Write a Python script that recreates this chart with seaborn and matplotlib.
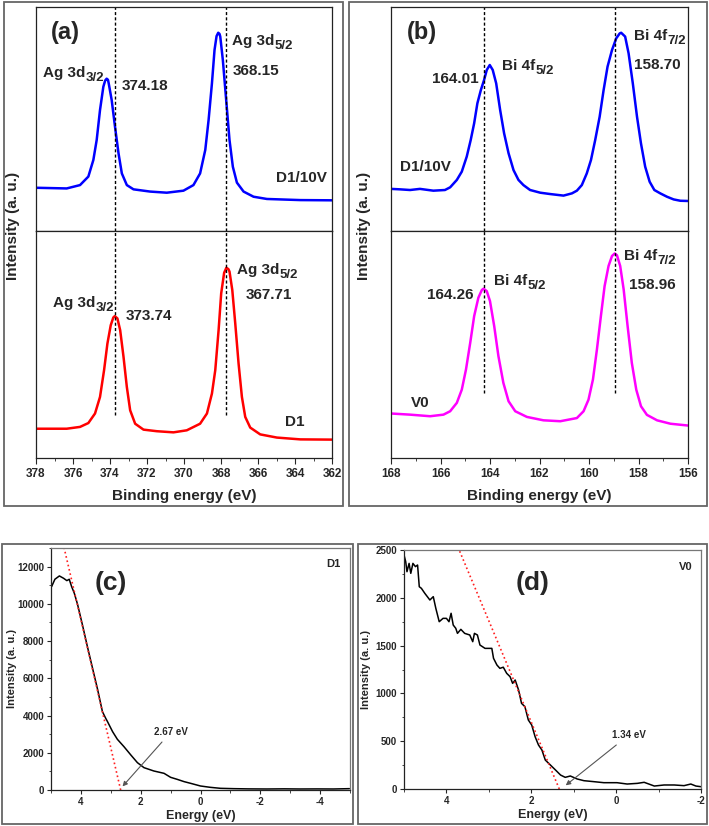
import numpy as np
import pandas as pd
import seaborn as sns
import matplotlib.pyplot as plt
from matplotlib.patches import Rectangle
from matplotlib.ticker import MultipleLocator

# ---------- (a) Ag 3d, D1/10V (top) and D1 (bottom) ----------
ag_top_ev = [378.00, 376.34, 375.62, 375.17, 374.90, 374.72, 374.54, 374.36, 374.26, 374.18,
             374.11, 374.07, 373.91, 373.73, 373.54, 373.36, 373.09, 372.73, 371.83, 370.93,
             370.03, 369.49, 369.13, 368.85, 368.67, 368.49, 368.35, 368.24, 368.15, 368.08,
             368.04, 367.90, 367.72, 367.54, 367.36, 367.14, 366.78, 366.24, 365.52, 363.71,
             362.00]
ag_top_int = [19.3, 19.0, 20.5, 24.3, 31.7, 40.6, 54.0, 64.4, 67.2, 68.0,
              67.5, 65.9, 58.5, 46.6, 34.7, 25.7, 20.5, 18.6, 17.6, 17.1,
              18.0, 20.5, 25.7, 36.2, 49.6, 65.9, 80.8, 87.0, 88.5, 88.0,
              86.8, 76.3, 58.5, 40.6, 28.7, 21.6, 17.6, 15.3, 14.3, 13.8,
              13.7]
ag_bot_ev = [378.00, 376.34, 375.62, 375.17, 374.81, 374.54, 374.32, 374.14, 373.96, 373.82,
             373.74, 373.60, 373.45, 373.27, 373.09, 372.91, 372.64, 372.19, 371.47, 370.57,
             369.85, 369.13, 368.76, 368.49, 368.31, 368.13, 367.99, 367.83, 367.71, 367.60,
             367.54, 367.39, 367.23, 367.05, 366.87, 366.69, 366.42, 365.88, 364.98, 363.71,
             362.00]
ag_bot_int = [12.9, 12.9, 13.7, 15.4, 19.6, 26.9, 38.7, 50.4, 58.5, 61.9,
              62.5, 61.5, 56.3, 44.6, 31.3, 21.0, 15.1, 12.5, 11.8, 11.3,
              12.2, 15.1, 19.6, 28.4, 38.7, 56.3, 72.5, 81.6, 83.8, 83.2,
              82.1, 74.0, 59.3, 41.6, 26.9, 18.1, 13.4, 10.4, 9.0, 8.2,
              8.1]
ag_ref_peaks = [373.74, 367.71]

# ---------- (b) Bi 4f, D1/10V (top) and V0 (bottom) ----------
bi_top_ev = [168.00, 167.64, 167.23, 166.83, 166.29, 165.82, 165.61, 165.34, 165.14, 164.94,
             164.78, 164.64, 164.51, 164.37, 164.24, 164.13, 164.01, 163.89, 163.75, 163.59,
             163.43, 163.25, 163.05, 162.85, 162.65, 162.38, 161.97, 161.57, 161.03, 160.69,
             160.49, 160.29, 160.09, 159.92, 159.75, 159.57, 159.41, 159.25, 159.07, 158.90,
             158.76, 158.70, 158.54, 158.40, 158.23, 158.06, 157.90, 157.73, 157.55, 157.36,
             157.12, 156.85, 156.58, 156.31, 156.00]
bi_top_int = [18.8, 18.6, 18.3, 18.8, 18.0, 18.3, 19.5, 22.8, 26.5, 33.2,
              40.6, 48.1, 57.0, 62.9, 67.4, 71.9, 74.1, 71.9, 65.9, 54.0,
              43.6, 34.7, 27.2, 22.8, 20.5, 18.3, 17.1, 16.5, 15.8, 16.8,
              18.0, 20.5, 25.7, 31.7, 40.6, 51.0, 62.9, 73.4, 80.8, 86.0,
              88.2, 88.5, 86.8, 79.3, 65.9, 51.0, 39.1, 28.7, 22.0, 18.3,
              16.8, 15.3, 14.1, 13.5, 13.4]
bi_bot_ev = [168.00, 167.23, 166.42, 165.88, 165.61, 165.34, 165.14, 164.97, 164.80, 164.64,
             164.47, 164.33, 164.26, 164.13, 164.00, 163.83, 163.66, 163.46, 163.25, 162.98,
             162.51, 161.84, 161.16, 160.49, 160.22, 160.02, 159.84, 159.68, 159.52, 159.37,
             159.21, 159.07, 158.96, 158.87, 158.74, 158.60, 158.44, 158.27, 158.09, 157.90,
             157.66, 157.25, 156.71, 156.00]
bi_bot_int = [19.6, 19.1, 18.4, 19.1, 20.6, 24.3, 30.1, 39.0, 50.7, 62.5,
              70.6, 74.0, 74.6, 73.5, 69.1, 58.1, 44.9, 33.1, 25.0, 20.6,
              18.1, 16.6, 16.2, 17.6, 20.6, 25.7, 34.6, 47.8, 62.5, 75.7,
              84.6, 89.0, 90.1, 89.3, 84.6, 74.3, 58.1, 41.9, 30.1, 22.8,
              19.0, 16.6, 15.1, 14.3]
bi_ref_peaks = [164.26, 158.96]

# ---------- (c) valence band D1 ----------
vb_d1_e = [4.98, 4.87, 4.72, 4.58, 4.47, 4.39, 4.31, 4.22, 4.11, 3.94, 3.78, 3.61, 3.44,
           3.28, 3.17, 3.11, 2.94, 2.78, 2.56, 2.33, 2.11, 1.89, 1.56, 1.22, 1.00, 0.78,
           0.55, 0.33, 0.00, -0.33, -0.67, -1.11, -1.60, -2.22, -2.80, -3.33, -3.90, -4.44,
           -4.98]
vb_d1_i = [10926, 11320, 11499, 11374, 11248, 11320, 10926, 10568, 9959, 8812, 7684, 6538, 5391,
           4209, 3850, 3672, 3134, 2723, 2328, 1881, 1469, 1200, 1021, 896, 681, 573,
           450, 358, 215, 143, 90, 72, 60, 54, 62, 54, 58, 54,
           72]
fit_d1_e = [4.56, 2.67]
fit_d1_i = [13000, 0]

# ---------- (d) valence band V0 ----------
vb_v0_e = [5.00, 4.96, 4.93, 4.88, 4.84, 4.79, 4.73, 4.68, 4.64, 4.59, 4.51, 4.39, 4.31,
           4.25, 4.17, 4.08, 4.00, 3.94, 3.89, 3.84, 3.78, 3.74, 3.66, 3.57, 3.45, 3.38,
           3.34, 3.27, 3.21, 3.09, 2.93, 2.89, 2.81, 2.74, 2.66, 2.58, 2.50, 2.44, 2.38,
           2.30, 2.23, 2.15, 2.07, 1.99, 1.91, 1.83, 1.75, 1.67, 1.55, 1.43, 1.31, 1.20,
           1.08, 0.92, 0.76, 0.53, 0.29, -0.02, -0.26, -0.50, -0.66, -0.90, -1.13, -1.37,
           -1.60, -1.76, -1.88, -2.00]
vb_v0_i = [2448, 2378, 2273, 2360, 2256, 2360, 2326, 2343, 2116, 2099, 2047, 1977, 2012,
           1890, 1750, 1785, 1785, 1750, 1838, 1715, 1681, 1628, 1670, 1628, 1611, 1541,
           1628, 1611, 1506, 1471, 1471, 1367, 1297, 1262, 1274, 1210, 1175, 1105, 1140,
           1036, 896, 861, 722, 669, 547, 460, 408, 303, 251, 199, 146, 122,
           136, 105, 87, 77, 66, 66, 52, 59, 70, 31, 42, 42,
           35, 52, 31, 24]
fit_v0_e = [3.70, 1.34]
fit_v0_i = [2500, 0]

sns.set_style('ticks')
plt.rcParams['font.family'] = ['Liberation Sans', 'DejaVu Sans']
plt.rcParams['font.weight'] = 'bold'
plt.rcParams['axes.labelweight'] = 'bold'
plt.rcParams['axes.unicode_minus'] = False
plt.rcParams['axes.linewidth'] = 0.9
plt.rcParams['axes.edgecolor'] = '#222222'

W, H = 709, 826
fig = plt.figure(figsize=(W / 100, H / 100), dpi=100)


def px_axes(l, t, r, b):
    return fig.add_axes([l / W, 1 - b / H, (r - l) / W, (b - t) / H])


def frame(l, t, r, b):
    fig.add_artist(Rectangle((l / W, 1 - b / H), (r - l) / W, (b - t) / H,
                             transform=fig.transFigure, fill=False, ec='#666666', lw=1.3))


lbl = dict(fontsize=11, fontweight='bold', va='center', ha='left')


def sub_label(ax, x, y, main, sub):
    # main text plus a large subscript hung off its lower-right corner
    t = ax.text(x, y, main, **lbl)
    ax.annotate(sub, xy=(1.0, 0.12), xycoords=t, fontsize=9.5, fontweight='bold',
                ha='left', va='center')


frame(4, 2, 343, 506)
frame(349, 2, 707, 506)
frame(2, 544, 353, 824)
frame(358, 544, 707, 824)

dash = (0, (2.2, 1.6))

# ---- panel (a) ----
axa1 = px_axes(36, 7, 332, 231)
axa2 = px_axes(36, 231, 332, 458)
sns.lineplot(x=ag_top_ev, y=ag_top_int, ax=axa1, color='#0000ff', lw=1.8)
sns.lineplot(x=ag_bot_ev, y=ag_bot_int, ax=axa2, color='#ff0000', lw=1.8)
axa1.vlines(ag_ref_peaks, 0, 100, colors='k', linestyles=dash, lw=1.0)
axa2.vlines(ag_ref_peaks, 18.8, 100, colors='k', linestyles=dash, lw=1.0)
axa1.text(376.43, 88.8, '(a)', fontsize=17, fontweight='bold', ha='center', va='center')
sub_label(axa1, 377.62, 70.5, 'Ag 3d', '3/2')
axa1.text(373.35, 64.7, '374.18', **lbl)
sub_label(axa1, 367.41, 84.8, 'Ag 3d', '5/2')
axa1.text(367.35, 71.4, '368.15', **lbl)
axa1.text(365.03, 23.7, 'D1/10V', **lbl)
sub_label(axa2, 377.08, 68.3, 'Ag 3d', '3/2')
axa2.text(373.14, 62.6, '373.74', **lbl)
sub_label(axa2, 367.14, 82.8, 'Ag 3d', '5/2')
axa2.text(366.65, 71.8, '367.71', **lbl)
axa2.text(364.54, 15.9, 'D1', **lbl)
for ax in (axa1, axa2):
    ax.set_xlim(378, 362)
    ax.set_ylim(0, 100)
    ax.tick_params(left=False, labelleft=False)
axa1.tick_params(bottom=False, labelbottom=False)
axa2.xaxis.set_major_locator(MultipleLocator(2))
axa2.xaxis.set_minor_locator(MultipleLocator(1))
axa2.tick_params(axis='x', which='major', direction='out', length=4, labelsize=8.5, pad=3)
axa2.tick_params(axis='x', which='minor', direction='out', length=2.5)
axa2.set_xlabel('Binding energy (eV)', fontsize=11, labelpad=7)
fig.text(13 / W, 1 - 226 / H, 'Intensity (a. u.)', rotation=90, fontsize=11,
         fontweight='bold', ha='center', va='center')

# ---- panel (b) ----
axb1 = px_axes(391, 7, 688, 231)
axb2 = px_axes(391, 231, 688, 458)
sns.lineplot(x=bi_top_ev, y=bi_top_int, ax=axb1, color='#0000ff', lw=1.8)
sns.lineplot(x=bi_bot_ev, y=bi_bot_int, ax=axb2, color='#ff00ff', lw=1.8)
axb1.vlines(bi_ref_peaks, 0, 100, colors='k', linestyles=dash, lw=1.0)
axb2.vlines(bi_ref_peaks, 28.7, 100, colors='k', linestyles=dash, lw=1.0)
axb1.text(166.75, 88.8, '(b)', fontsize=17, fontweight='bold', ha='center', va='center')
axb1.text(166.34, 67.9, '164.01', **lbl)
sub_label(axb1, 163.52, 73.7, 'Bi 4f', '5/2')
sub_label(axb1, 158.18, 87.1, 'Bi 4f', '7/2')
axb1.text(158.18, 74.1, '158.70', **lbl)
axb1.text(167.64, 28.6, 'D1/10V', **lbl)
axb2.text(166.55, 71.8, '164.26', **lbl)
sub_label(axb2, 163.84, 78.0, 'Bi 4f', '5/2')
sub_label(axb2, 158.59, 89.0, 'Bi 4f', '7/2')
axb2.text(158.38, 76.2, '158.96', **lbl)
axb2.text(167.19, 24.2, 'V0', **lbl)
for ax in (axb1, axb2):
    ax.set_xlim(168, 156)
    ax.set_ylim(0, 100)
    ax.tick_params(left=False, labelleft=False)
axb1.tick_params(bottom=False, labelbottom=False)
axb2.xaxis.set_major_locator(MultipleLocator(2))
axb2.xaxis.set_minor_locator(MultipleLocator(1))
axb2.tick_params(axis='x', which='major', direction='out', length=4, labelsize=8.5, pad=3)
axb2.tick_params(axis='x', which='minor', direction='out', length=2.5)
axb2.set_xlabel('Binding energy (eV)', fontsize=11, labelpad=7)
fig.text(364 / W, 1 - 226 / H, 'Intensity (a. u.)', rotation=90, fontsize=11,
         fontweight='bold', ha='center', va='center')

# ---- panel (c) ----
axc = px_axes(51, 548, 350, 790)
sns.lineplot(x=vb_d1_e, y=vb_d1_i, ax=axc, color='black', lw=1.1)
sns.lineplot(x=fit_d1_e, y=fit_d1_i, ax=axc, color='#ff2020', lw=1.2, linestyle=':')
axc.set_xlim(5, -5)
axc.set_ylim(0, 13000)
axc.xaxis.set_major_locator(MultipleLocator(2))
axc.xaxis.set_minor_locator(MultipleLocator(1))
axc.yaxis.set_major_locator(MultipleLocator(2000))
axc.yaxis.set_minor_locator(MultipleLocator(1000))
axc.text(3.0, 11100, '(c)', fontsize=19, fontweight='bold', ha='center', va='center')
axc.text(-4.44, 12143, 'D1', fontsize=8, fontweight='bold', ha='center', va='center')
axc.annotate('2.67 eV', xy=(2.67, 80), xytext=(0.98, 3134), fontsize=7,
             fontweight='bold', ha='center', va='center',
             arrowprops=dict(arrowstyle='-|>', color='#555555', lw=0.8, mutation_scale=7))
axc.set_xlabel('Energy (eV)', fontsize=9, labelpad=2)
axc.set_ylabel('Intensity (a. u.)', fontsize=8)
axc.yaxis.set_label_coords(-0.115, 0.5)

# ---- panel (d) ----
axd = px_axes(404, 550, 701, 789)
sns.lineplot(x=vb_v0_e, y=vb_v0_i, ax=axd, color='black', lw=1.1)
sns.lineplot(x=fit_v0_e, y=fit_v0_i, ax=axd, color='#ff2020', lw=1.2, linestyle=':')
axd.set_xlim(5, -2)
axd.set_ylim(0, 2500)
axd.xaxis.set_major_locator(MultipleLocator(2))
axd.xaxis.set_minor_locator(MultipleLocator(1))
axd.yaxis.set_major_locator(MultipleLocator(500))
axd.yaxis.set_minor_locator(MultipleLocator(250))
axd.text(1.98, 2150, '(d)', fontsize=19, fontweight='bold', ha='center', va='center')
axd.text(-1.65, 2326, 'V0', fontsize=8, fontweight='bold', ha='center', va='center')
axd.annotate('1.34 eV', xy=(1.24, 20), xytext=(-0.30, 565), fontsize=7,
             fontweight='bold', ha='center', va='center',
             arrowprops=dict(arrowstyle='-|>', color='#555555', lw=0.8, mutation_scale=7))
axd.set_xlabel('Energy (eV)', fontsize=9, labelpad=2)
axd.set_ylabel('Intensity (a. u.)', fontsize=8)
axd.yaxis.set_label_coords(-0.11, 0.5)

for ax in (axc, axd):
    ax.tick_params(which='major', direction='out', length=3, labelsize=7, pad=2)
    ax.tick_params(which='minor', direction='out', length=1.8)
    for s in ('top', 'right'):
        ax.spines[s].set_color('#777777')

fig.savefig('out.png', dpi=100)
